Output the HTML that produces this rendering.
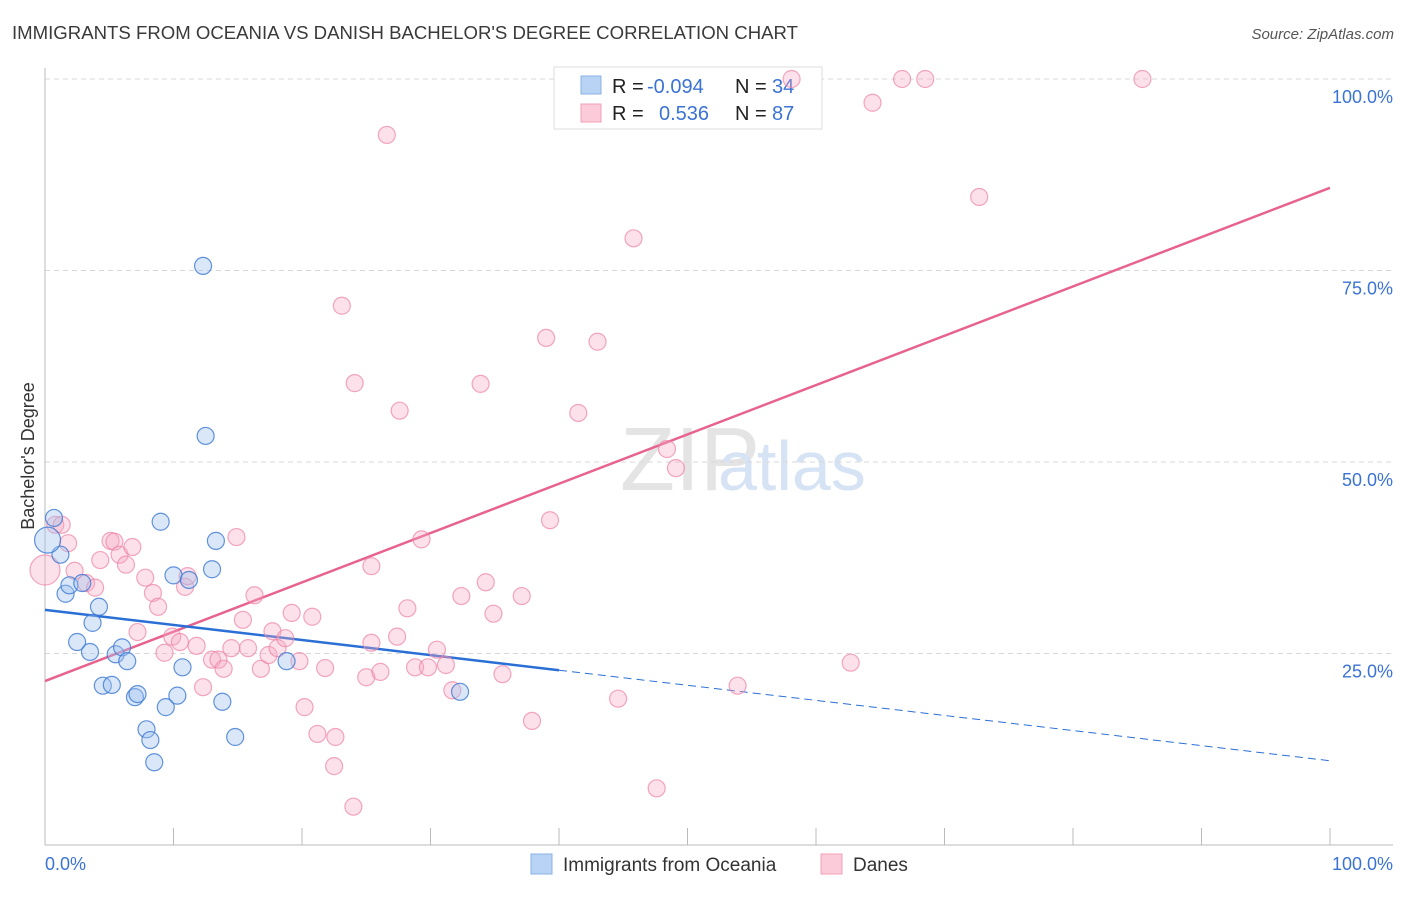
<!DOCTYPE html>
<html><head><meta charset="utf-8"><style>
body{margin:0;background:#fff;font-family:"Liberation Sans",sans-serif}
svg text{font-family:"Liberation Sans",sans-serif}
</style></head><body>
<svg id="svg" width="1406" height="892" xmlns="http://www.w3.org/2000/svg">
<text x="12" y="39" font-size="18.6" fill="#3a3a3a">IMMIGRANTS FROM OCEANIA VS DANISH BACHELOR'S DEGREE CORRELATION CHART</text>
<text x="1394" y="39" font-size="15" fill="#555" text-anchor="end" font-style="italic">Source: ZipAtlas.com</text>
<text x="620" y="490" font-size="90" fill="#e4e4e4" font-family="Liberation Serif">ZIP</text>
<text x="718" y="490" font-size="70" fill="#d6e3f5">atlas</text>
<g id="grid"></g>
<g id="axes"></g>
<g id="lines"></g>
<text x="34" y="456" font-size="18" fill="#333" text-anchor="middle" transform="rotate(-90 34 456)">Bachelor's Degree</text>
<g>
<rect x="554" y="67" width="268" height="62" fill="#fff" stroke="#ddd"/>
<rect x="581" y="76" width="20" height="18" fill="#b9d3f5" stroke="#8ab0e6"/>
<rect x="581" y="104" width="20" height="18" fill="#fbcbd9" stroke="#f0a0b8"/>
<text x="612" y="93" font-size="20" fill="#222">R =</text>
<text x="647" y="93" font-size="20" fill="#3b73d4">-0.094</text>
<text x="735" y="93" font-size="20" fill="#222">N =</text>
<text x="772" y="93" font-size="20" fill="#3b73d4">34</text>
<text x="612" y="120" font-size="20" fill="#222">R =</text>
<text x="659" y="120" font-size="20" fill="#3b73d4">0.536</text>
<text x="735" y="120" font-size="20" fill="#222">N =</text>
<text x="772" y="120" font-size="20" fill="#3b73d4">87</text>
</g>
<g id="pts"></g>
<g>
<rect x="531" y="854" width="21" height="20" fill="#b9d3f5" stroke="#8ab0e6"/>
<text x="563" y="871" font-size="19" fill="#333">Immigrants from Oceania</text>
<rect x="821" y="854" width="21" height="20" fill="#fbcbd9" stroke="#f0a0b8"/>
<text x="853" y="871" font-size="19" fill="#333">Danes</text>
</g>
</svg>
<script>
const blueX=[0.7,1.2,1.6,1.9,2.9,4.2,3.7,2.5,3.5,4.5,5.2,5.5,6.0,6.4,7.0,7.2,7.9,8.2,8.5,9.0,9.4,10.0,10.3,10.7,11.2,12.3,12.5,13.0,13.3,13.8,14.8,18.8,32.3,0.2];
const blueY=[42.7,37.9,32.8,33.9,34.2,31.1,29.0,26.5,25.2,20.8,20.9,24.9,25.8,24.0,19.3,19.7,15.1,13.7,10.8,42.2,18.0,35.2,19.5,23.2,34.6,75.6,53.4,36.0,39.7,18.7,14.1,24.0,20.0,39.8];
const pinkX=[0.0,0.8,1.3,1.8,2.3,3.2,3.9,4.3,5.1,5.4,5.8,6.3,6.8,7.2,7.8,8.4,8.8,9.3,9.9,10.5,10.9,11.1,11.8,12.3,13.0,13.5,13.9,14.5,14.9,15.4,15.8,16.3,16.8,17.4,17.7,18.1,18.7,19.2,19.8,20.2,20.8,21.2,21.8,22.5,22.6,23.1,24.0,24.1,25.0,25.4,25.4,26.1,26.6,27.4,27.6,28.2,28.8,29.3,29.8,30.5,31.2,31.7,32.4,33.9,34.3,34.9,35.6,37.1,37.9,39.0,39.3,41.5,43.0,44.6,45.8,47.6,48.4,49.1,53.9,58.1,62.7,64.4,66.7,68.5,72.7,85.4];
const pinkY=[35.9,41.8,41.8,39.4,35.8,34.2,33.6,37.2,39.7,39.6,37.9,36.6,38.9,27.8,34.9,32.9,31.1,25.1,27.2,26.5,33.7,35.1,26.0,20.6,24.2,24.2,23.0,25.7,40.2,29.4,25.7,32.6,23.0,24.8,27.9,25.7,27.0,30.3,24.0,18.0,29.8,14.5,23.1,10.3,14.1,70.4,5.0,60.3,21.9,26.4,36.4,22.6,92.7,27.2,56.7,30.9,23.2,39.9,23.2,25.5,23.5,20.2,32.5,60.2,34.3,30.2,22.3,32.5,16.2,66.2,42.4,56.4,65.7,19.1,79.2,7.4,51.7,49.2,20.8,100,23.8,96.9,100,100,84.6,100];
const blueTrend=[30.7,11.0];
const pinkTrend=[21.4,85.8];
const yTicks=[25,50,75,100];
const yTickLabels=["25.0%","50.0%","75.0%","100.0%"];
const xTicks=[0,10,20,30,40,50,60,70,80,90,100];
const NS="http://www.w3.org/2000/svg";
const X=v=>45+v*12.85, Y=v=>845-v*7.66;
function mk(p,t,a){const e=document.createElementNS(NS,t);for(const k in a)e.setAttribute(k,a[k]);p.appendChild(e);return e;}
const grid=document.getElementById('grid'),axes=document.getElementById('axes'),pts=document.getElementById('pts'),lines=document.getElementById('lines');
yTicks.forEach((v,i)=>{
 const l=mk(grid,'line',{x1:45,x2:1393,y1:Y(v),y2:Y(v),stroke:'#d8d8d8','stroke-dasharray':'5,4'});
 
 
 const t=mk(grid,'text',{x:1393,y:Y(v)+24,'font-size':18,fill:'#3b73d4','text-anchor':'end'});
 t.textContent=yTickLabels[i];
 
 
});
const ax=mk(axes,'line',{x1:45,x2:45,y1:68,y2:845,stroke:'#bbb'});


const bx=mk(axes,'line',{x1:45,x2:1393,y1:845,y2:845,stroke:'#bbb'});


xTicks.forEach(v=>{const t=mk(axes,'line',{x1:X(v),x2:X(v),y1:828,y2:845,stroke:'#bbb'});
 
 });
[["0.0%",45,"start"],["100.0%",1393,"end"]].forEach(a=>{const t=mk(axes,'text',{x:a[1],y:870,'font-size':18,fill:'#3b73d4','text-anchor':a[2]});t.textContent=a[0];
 
 });
pinkX.forEach((x,i)=>{const c=mk(pts,'circle',{cx:X(x),cy:Y(pinkY[i]),r:i===0?15:8.5,fill:'rgba(247,170,195,0.35)',stroke:'rgba(236,130,165,0.7)','stroke-width':1.2});
 
 });
blueX.forEach((x,i)=>{const c=mk(pts,'circle',{cx:X(x),cy:Y(blueY[i]),r:i===blueX.length-1?13:8.5,fill:'rgba(160,195,240,0.4)',stroke:'rgba(60,120,210,0.8)','stroke-width':1.2});
 
 });
const bt=v=>blueTrend[0]+(blueTrend[1]-blueTrend[0])*v/100, pt=v=>pinkTrend[0]+(pinkTrend[1]-pinkTrend[0])*v/100;
const l1=mk(lines,'line',{x1:X(0),y1:Y(pt(0)),x2:X(100),y2:Y(pt(100)),stroke:'#e8628e','stroke-width':2.5});


const l2=mk(lines,'line',{x1:X(0),y1:Y(bt(0)),x2:X(40),y2:Y(bt(40)),stroke:'#2a6fd6','stroke-width':2.5});


const l3=mk(lines,'line',{x1:X(40),y1:Y(bt(40)),x2:X(100),y2:Y(bt(100)),stroke:'#2a6fd6','stroke-width':1,'stroke-dasharray':'8,5'});


</script>
</body></html>
